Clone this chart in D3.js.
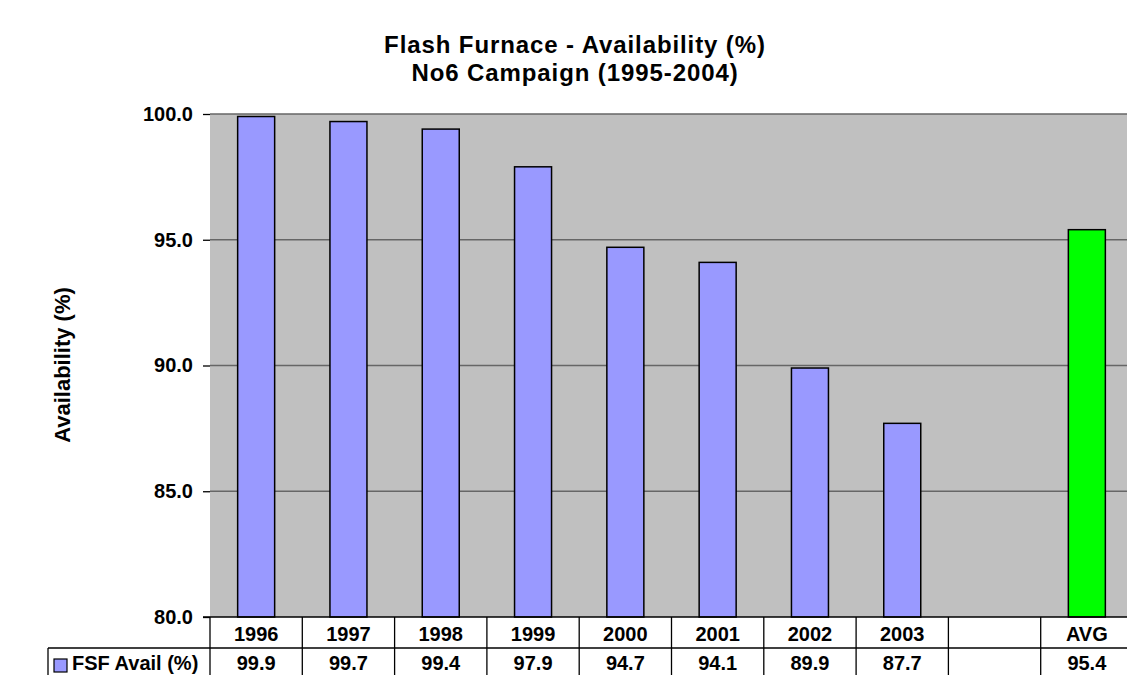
<!DOCTYPE html>
<html><head><meta charset="utf-8">
<script src="https://cdn.jsdelivr.net/npm/d3@7"></script>
<style>body{margin:0;background:#fff;} text{font-family:"Liberation Sans",Arial,sans-serif;font-weight:bold;fill:#000;}</style>
</head><body><svg id="c" width="1127" height="675"></svg>
<script>
const categories = ["1996","1997","1998","1999","2000","2001","2002","2003","","AVG"];
const values = [99.9, 99.7, 99.4, 97.9, 94.7, 94.1, 89.9, 87.7, null, 95.4];
const labels = ["99.9","99.7","99.4","97.9","94.7","94.1","89.9","87.7","","95.4"];
const yTicks = [80, 85, 90, 95, 100];
const seriesName = "FSF Avail (%)";

const svg = d3.select("#c");
const L = 210, R = 1133, T = 114, B = 617;
const x = d3.scaleBand().domain(d3.range(categories.length)).range([L, R]).paddingInner(0).paddingOuter(0);
const y = d3.scaleLinear().domain([80, 100]).range([B, T]);

// title
svg.append("text").attr("x", 575).attr("y", 53).attr("text-anchor","middle").style("font-size","24px").style("letter-spacing","0.9px").text("Flash Furnace - Availability (%)");
svg.append("text").attr("x", 575).attr("y", 81).attr("text-anchor","middle").style("font-size","24px").style("letter-spacing","0.9px").text("No6 Campaign (1995-2004)");

// plot background
svg.append("rect").attr("x", L).attr("y", T).attr("width", R - L).attr("height", B - T).attr("fill", "#C0C0C0");

// gridlines
svg.append("g").selectAll("line").data(yTicks.filter(d => d > 80)).join("line")
  .attr("x1", L).attr("x2", R).attr("y1", d => y(d)).attr("y2", d => y(d))
  .attr("stroke", "#666").attr("stroke-width", 1.5);

// y axis
const yAxis = d3.axisLeft(y).tickValues(yTicks).tickFormat(d3.format(".1f")).tickSize(7).tickPadding(10);
const ga = svg.append("g").attr("transform", `translate(${L},0)`).call(yAxis);
ga.select(".domain").remove();
ga.selectAll(".tick line").attr("stroke", "#000").attr("stroke-width", 1.3);
ga.selectAll(".tick text").style("font-size", "20px").style("font-family","'Liberation Sans',Arial,sans-serif").style("font-weight","bold").attr("fill","#000");

// bars
const bw = 37;
svg.append("g").selectAll("rect").data(values.map((v,i)=>({v,i})).filter(d => d.v != null)).join("rect")
  .attr("x", d => x(d.i) + x.bandwidth()/2 - bw/2)
  .attr("y", d => y(d.v))
  .attr("width", bw)
  .attr("height", d => B - y(d.v))
  .attr("fill", d => categories[d.i] === "AVG" ? "#00FF00" : "#9999FF")
  .attr("stroke", "#000").attr("stroke-width", 1.5);

// axis line at bottom
svg.append("line").attr("x1", L - 7).attr("x2", R).attr("y1", B).attr("y2", B).attr("stroke", "#000").attr("stroke-width", 1.3);

// data table
const row2 = 648;
const tbl = svg.append("g");
tbl.selectAll("line.v").data(d3.range(categories.length + 1)).join("line")
  .attr("x1", i => i < categories.length ? x(i) : R).attr("x2", i => i < categories.length ? x(i) : R)
  .attr("y1", B).attr("y2", 680).attr("stroke", "#000").attr("stroke-width", 1.3);
tbl.append("line").attr("x1", 48).attr("x2", R).attr("y1", row2).attr("y2", row2).attr("stroke", "#000").attr("stroke-width", 1.3);
tbl.append("line").attr("x1", 48).attr("x2", 48).attr("y1", row2).attr("y2", 680).attr("stroke", "#000").attr("stroke-width", 1.3);

tbl.selectAll("text.cat").data(categories).join("text")
  .attr("x", (d,i) => x(i) + x.bandwidth()/2).attr("y", 641)
  .attr("text-anchor","middle").style("font-size","20px").text(d => d);
tbl.selectAll("text.val").data(labels).join("text")
  .attr("x", (d,i) => x(i) + x.bandwidth()/2).attr("y", 670)
  .attr("text-anchor","middle").style("font-size","20px").text(d => d);

// legend key
tbl.append("rect").attr("x", 54).attr("y", 659).attr("width", 13).attr("height", 13)
  .attr("fill", "#9999FF").attr("stroke", "#000").attr("stroke-width", 1.2);
tbl.append("text").attr("x", 72).attr("y", 670).style("font-size","20px").text(seriesName);

// y title
svg.append("text").attr("transform", `translate(70,365) rotate(-90)`).attr("text-anchor","middle").style("font-size","22px").text("Availability (%)");
</script></body></html>
